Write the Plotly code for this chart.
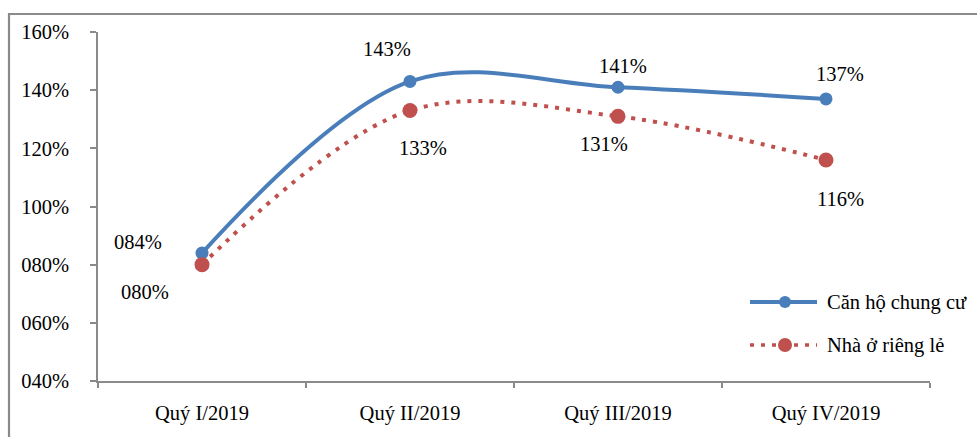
import plotly.graph_objects as go

# Quarterly ratios (percent)
quarters = ["Quý I/2019", "Quý II/2019", "Quý III/2019", "Quý IV/2019"]
series_names = ["Căn hộ chung cư", "Nhà ở riêng lẻ"]
can_ho = [84, 143, 141, 137]
nha_o = [80, 133, 131, 116]

y_ticks = [40, 60, 80, 100, 120, 140, 160]
y_tick_text = ["040%", "060%", "080%", "100%", "120%", "140%", "160%"]

BLUE = "#4A7EBB"
RED = "#C0504D"
AXIS = "#8A8A8A"
FONT = "Liberation Serif, Times New Roman, serif"
FS = 20.5

fig = go.Figure()
fig.add_trace(go.Scatter(
    x=quarters, y=can_ho, name=series_names[0], mode="lines+markers",
    line=dict(color=BLUE, width=4, shape="spline", smoothing=1),
    marker=dict(color=BLUE, size=13), showlegend=False,
))
fig.add_trace(go.Scatter(
    x=quarters, y=nha_o, name=series_names[1], mode="lines+markers",
    line=dict(color=RED, width=4, shape="spline", smoothing=1, dash="4px,7px"),
    marker=dict(color=RED, size=15), showlegend=False,
))

# data labels: offsets (px) per point for each series
blue_offsets = [(-64, 11), (-23, 32), (5, 21), (14, 25)]
red_offsets = [(-57, -27), (13, -37), (-14, -28), (14, -39)]
for vals, offs in ((can_ho, blue_offsets), (nha_o, red_offsets)):
    for q, v, (dx, dy) in zip(quarters, vals, offs):
        fig.add_annotation(
            x=q, y=v, text=f"{v:03d}%", showarrow=False,
            xshift=dx, yshift=dy, font=dict(family=FONT, size=FS, color="#000"),
        )

# plot-area geometry used for paper-coordinate placement
W, H = 977, 437
L, R, T, B = 98, 47, 32, 56
pw, ph = W - L - R, H - T - B


def px(x):
    return (x - L) / pw


def py(y):
    return (H - B - y) / ph


shapes = [
    # outer chart frame
    dict(type="rect", xref="paper", yref="paper",
         x0=px(9), x1=px(1000), y0=py(14), y1=py(460),
         line=dict(color=AXIS, width=2.2), fillcolor="rgba(0,0,0,0)", layer="below"),
]

# legend drawn inside the plot area
legend_rows = [(302, BLUE, None, 12, series_names[0]), (345, RED, "dot", 14, series_names[1])]
for yy, col, dash, msize, name in legend_rows:
    shapes.append(dict(type="line", xref="paper", yref="paper",
                       x0=px(750), x1=px(817), y0=py(yy), y1=py(yy),
                       line=dict(color=col, width=4 if dash is None else 3.5,
                                 dash="solid" if dash is None else "4px,7px")))
    r = msize / 2
    shapes.append(dict(type="circle", xref="paper", yref="paper",
                       x0=px(785 - r), x1=px(785 + r), y0=py(yy + r), y1=py(yy - r),
                       fillcolor=col, line=dict(color=col, width=0)))
    fig.add_annotation(xref="paper", yref="paper", x=px(825), y=py(yy),
                       text=name, showarrow=False, xanchor="left", yanchor="middle",
                       font=dict(family=FONT, size=FS, color="#000"))

fig.update_layout(
    width=W, height=H,
    margin=dict(l=L, r=R, t=T, b=B),
    paper_bgcolor="white", plot_bgcolor="white",
    font=dict(family=FONT, size=FS, color="#000"),
    shapes=shapes,
    xaxis=dict(
        type="category", range=[-0.5, 3.5], showgrid=False, zeroline=False,
        showline=True, linecolor=AXIS, linewidth=1.6,
        ticks="outside", tickson="boundaries", ticklen=5, tickcolor=AXIS, tickwidth=1.6,
        ticklabelstandoff=13, tickfont=dict(family=FONT, size=FS, color="#000"),
    ),
    yaxis=dict(
        range=[40, 160], showgrid=False, zeroline=False,
        showline=True, linecolor=AXIS, linewidth=1.6,
        tickvals=y_ticks, ticktext=y_tick_text,
        ticks="outside", ticklen=6, tickcolor=AXIS, tickwidth=1.6,
        ticklabelstandoff=17, tickfont=dict(family=FONT, size=FS, color="#000"),
    ),
)

fig.write_html("out.html")
